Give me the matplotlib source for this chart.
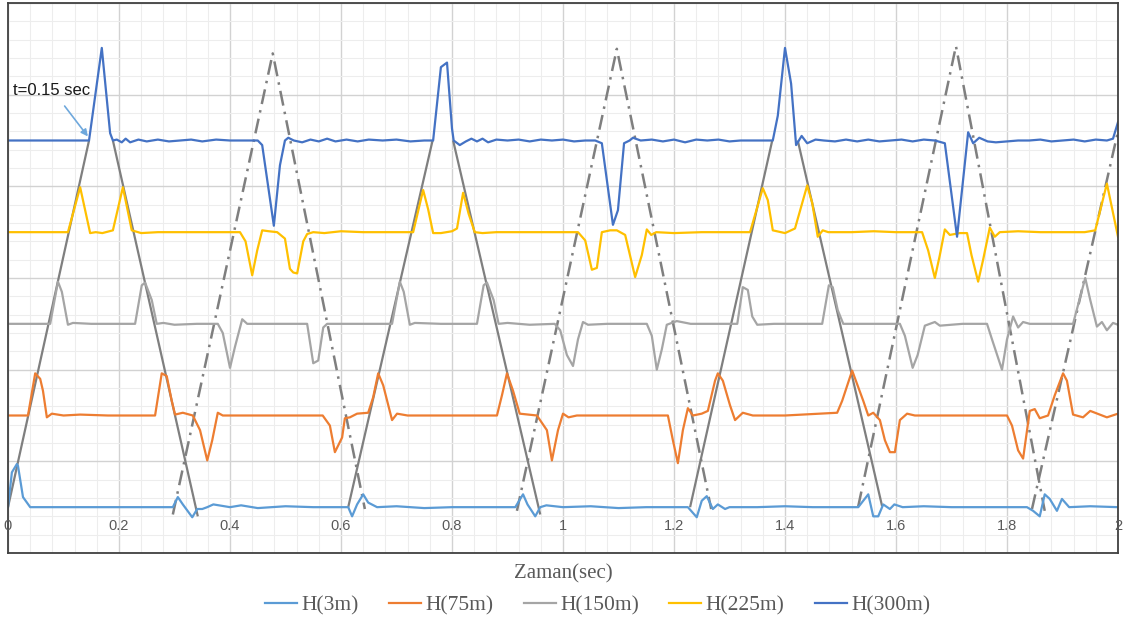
import numpy as np
import matplotlib
matplotlib.use("Agg")
import matplotlib.pyplot as plt

# zaman (s) ve kaydirilmis basinc degerleri
t_3 = [0.000, 0.007, 0.016, 0.018, 0.027, 0.040, 0.100, 0.200, 0.297, 0.306, 0.315, 0.332, 0.341,
       0.350, 0.359, 0.370, 0.400, 0.420, 0.450, 0.500, 0.550, 0.613, 0.620, 0.629, 0.640, 0.649,
       0.665, 0.700, 0.750, 0.800, 0.850, 0.914, 0.928, 0.936, 0.950, 0.959, 0.970, 1.000, 1.050,
       1.100, 1.150, 1.225, 1.241, 1.250, 1.259, 1.270, 1.279, 1.292, 1.300, 1.350, 1.400, 1.450,
       1.532, 1.550, 1.559, 1.568, 1.577, 1.589, 1.597, 1.612, 1.650, 1.700, 1.750, 1.800, 1.836,
       1.847, 1.859, 1.868, 1.877, 1.890, 1.899, 1.912, 1.950, 2.000]
h_3 = [0.00, 0.38, 0.47, 0.45, 0.11, 0.00, 0.00, 0.00, 0.00, 0.11, 0.03, -0.11, -0.02,
       -0.02, 0.00, 0.03, 0.00, 0.02, -0.01, 0.01, 0.00, 0.00, -0.10, 0.03, 0.14, 0.05,
       0.00, 0.01, -0.01, 0.00, 0.00, 0.00, 0.14, 0.03, -0.10, 0.00, 0.02, 0.00, 0.01,
       -0.01, 0.00, 0.00, -0.11, 0.07, 0.12, -0.02, 0.03, -0.02, 0.00, 0.00, 0.01, 0.00,
       0.00, 0.14, -0.10, -0.10, 0.03, -0.02, 0.03, 0.00, 0.01, 0.00, 0.00, 0.00, 0.00,
       -0.04, -0.10, 0.14, 0.09, -0.04, 0.09, 0.00, 0.01, 0.00]

t_75 = [0.000, 0.036, 0.049, 0.058, 0.063, 0.070, 0.079, 0.100, 0.130, 0.180, 0.230, 0.265, 0.277,
        0.286, 0.295, 0.301, 0.315, 0.333, 0.346, 0.359, 0.368, 0.378, 0.387, 0.430, 0.500, 0.567,
        0.580, 0.589, 0.602, 0.607, 0.616, 0.629, 0.649, 0.658, 0.667, 0.676, 0.692, 0.701, 0.720,
        0.800, 0.881, 0.890, 0.899, 0.910, 0.922, 0.953, 0.971, 0.980, 0.991, 1.000, 1.010, 1.025,
        1.080, 1.150, 1.189, 1.198, 1.207, 1.216, 1.225, 1.234, 1.250, 1.261, 1.274, 1.279, 1.288,
        1.301, 1.310, 1.324, 1.342, 1.400, 1.494, 1.503, 1.521, 1.541, 1.550, 1.559, 1.571, 1.580,
        1.589, 1.598, 1.607, 1.620, 1.634, 1.700, 1.760, 1.800, 1.809, 1.820, 1.829, 1.841, 1.850,
        1.859, 1.874, 1.886, 1.901, 1.908, 1.919, 1.937, 1.950, 1.980, 2.000]
h_75 = [1.00, 1.00, 1.46, 1.40, 1.27, 0.98, 1.02, 1.00, 1.01, 1.00, 1.00, 1.00, 1.46,
        1.43, 1.16, 1.01, 1.03, 1.00, 0.84, 0.51, 0.73, 1.03, 1.00, 1.00, 1.00, 1.00,
        0.89, 0.60, 0.76, 0.97, 0.98, 1.02, 1.03, 1.20, 1.46, 1.33, 0.95, 1.02, 1.00,
        1.00, 1.00, 1.22, 1.46, 1.27, 1.02, 1.00, 0.84, 0.51, 0.84, 1.02, 0.98, 1.00,
        1.00, 1.00, 1.00, 0.73, 0.48, 0.84, 1.08, 1.00, 1.02, 1.05, 1.38, 1.46, 1.38,
        1.11, 0.95, 1.03, 1.00, 1.00, 1.03, 1.16, 1.49, 1.16, 1.00, 1.03, 0.95, 0.73,
        0.60, 0.60, 0.95, 1.02, 1.00, 1.00, 1.00, 1.00, 0.89, 0.62, 0.53, 1.05, 1.07,
        0.97, 1.00, 1.22, 1.46, 1.38, 1.01, 0.98, 1.05, 0.98, 1.02]

t_150 = [0.000, 0.076, 0.090, 0.097, 0.108, 0.117, 0.150, 0.200, 0.229, 0.241, 0.247, 0.259, 0.268,
         0.280, 0.300, 0.340, 0.378, 0.387, 0.400, 0.409, 0.422, 0.431, 0.470, 0.510, 0.539, 0.550,
         0.559, 0.568, 0.575, 0.620, 0.680, 0.692, 0.706, 0.713, 0.724, 0.733, 0.780, 0.845, 0.857,
         0.863, 0.875, 0.884, 0.900, 0.940, 0.985, 0.995, 1.007, 1.018, 1.027, 1.036, 1.045, 1.080,
         1.120, 1.151, 1.160, 1.169, 1.178, 1.187, 1.205, 1.230, 1.270, 1.314, 1.324, 1.333, 1.341,
         1.350, 1.380, 1.420, 1.467, 1.479, 1.486, 1.495, 1.505, 1.540, 1.580, 1.607, 1.616, 1.630,
         1.639, 1.652, 1.670, 1.679, 1.720, 1.764, 1.773, 1.791, 1.800, 1.811, 1.820, 1.829, 1.841,
         1.880, 1.919, 1.941, 1.950, 1.962, 1.971, 1.980, 1.991, 2.000]
h_150 = [2.00, 2.00, 2.46, 2.35, 1.99, 2.01, 2.00, 2.00, 2.00, 2.42, 2.45, 2.26, 2.00,
         2.01, 1.99, 2.00, 2.00, 1.90, 1.52, 1.75, 2.05, 2.00, 2.00, 2.00, 2.00, 1.57,
         1.60, 1.96, 2.00, 2.00, 2.00, 2.00, 2.46, 2.35, 1.99, 2.01, 2.00, 2.00, 2.42,
         2.45, 2.26, 2.00, 2.01, 1.99, 2.00, 1.93, 1.66, 1.54, 1.83, 2.02, 1.99, 2.00,
         2.00, 2.00, 1.87, 1.50, 1.72, 1.99, 2.03, 2.00, 2.00, 2.00, 2.40, 2.37, 2.08,
         1.99, 2.00, 2.00, 2.00, 2.42, 2.40, 2.15, 2.00, 2.00, 2.00, 2.00, 1.87, 1.52,
         1.66, 1.98, 2.02, 1.98, 2.00, 2.00, 1.83, 1.50, 1.83, 2.08, 1.96, 2.02, 2.00,
         2.00, 2.00, 2.50, 2.26, 1.97, 2.02, 1.93, 2.01, 1.99]

t_225 = [0.000, 0.050, 0.108, 0.130, 0.148, 0.158, 0.170, 0.189, 0.207, 0.223, 0.240, 0.270, 0.300,
         0.350, 0.418, 0.428, 0.440, 0.449, 0.458, 0.470, 0.485, 0.499, 0.508, 0.514, 0.521, 0.532,
         0.539, 0.550, 0.570, 0.600, 0.640, 0.690, 0.730, 0.748, 0.757, 0.766, 0.780, 0.800, 0.809,
         0.820, 0.830, 0.841, 0.855, 0.880, 0.920, 0.960, 1.000, 1.027, 1.040, 1.052, 1.061, 1.070,
         1.085, 1.097, 1.112, 1.130, 1.142, 1.151, 1.159, 1.168, 1.200, 1.250, 1.300, 1.337, 1.360,
         1.369, 1.378, 1.400, 1.418, 1.440, 1.449, 1.459, 1.468, 1.478, 1.520, 1.560, 1.600, 1.647,
         1.658, 1.670, 1.679, 1.688, 1.697, 1.715, 1.728, 1.736, 1.748, 1.757, 1.769, 1.778, 1.787,
         1.820, 1.860, 1.900, 1.940, 1.959, 1.980, 2.000]
h_225 = [3.00, 3.00, 3.00, 3.49, 2.99, 3.00, 2.99, 3.02, 3.49, 3.02, 2.99, 3.00, 3.00,
         3.00, 3.00, 2.90, 2.53, 2.80, 3.02, 3.01, 3.00, 2.93, 2.60, 2.56, 2.55, 2.90,
         2.98, 3.00, 2.99, 3.01, 3.00, 3.00, 3.00, 3.46, 3.25, 2.99, 2.99, 3.01, 3.04,
         3.43, 3.20, 3.00, 2.99, 3.00, 3.00, 3.00, 3.00, 3.00, 2.91, 2.59, 2.61, 3.00,
         3.02, 3.02, 2.97, 2.51, 2.75, 3.03, 2.97, 3.00, 2.99, 3.00, 3.00, 3.00, 3.48,
         3.35, 3.02, 2.99, 3.04, 3.51, 3.32, 2.95, 3.02, 3.00, 3.00, 3.01, 3.00, 3.00,
         2.80, 2.50, 2.75, 3.03, 2.97, 2.99, 2.99, 2.75, 2.46, 2.70, 3.05, 2.95, 3.00,
         3.01, 3.00, 3.00, 3.00, 3.02, 3.53, 2.95]

t_300 = [0.000, 0.146, 0.169, 0.184, 0.189, 0.196, 0.205, 0.212, 0.220, 0.235, 0.250, 0.270, 0.290,
         0.310, 0.330, 0.350, 0.375, 0.400, 0.425, 0.450, 0.458, 0.479, 0.490, 0.499, 0.505, 0.515,
         0.530, 0.545, 0.560, 0.575, 0.590, 0.610, 0.630, 0.650, 0.675, 0.700, 0.725, 0.750, 0.766,
         0.780, 0.791, 0.800, 0.803, 0.814, 0.825, 0.835, 0.845, 0.855, 0.865, 0.880, 0.900, 0.920,
         0.940, 0.960, 0.980, 1.000, 1.020, 1.040, 1.058, 1.070, 1.090, 1.099, 1.110, 1.120, 1.126,
         1.140, 1.160, 1.180, 1.200, 1.220, 1.240, 1.260, 1.280, 1.300, 1.320, 1.350, 1.378, 1.387,
         1.400, 1.411, 1.420, 1.430, 1.440, 1.455, 1.470, 1.490, 1.510, 1.530, 1.550, 1.570, 1.590,
         1.610, 1.630, 1.650, 1.670, 1.688, 1.710, 1.730, 1.739, 1.750, 1.765, 1.780, 1.800, 1.820,
         1.840, 1.860, 1.880, 1.900, 1.920, 1.940, 1.960, 1.980, 1.991, 2.000]
h_300 = [4.00, 4.00, 5.01, 4.08, 4.00, 4.01, 3.98, 4.02, 3.98, 4.01, 3.99, 4.01, 3.99,
         4.00, 4.01, 3.99, 4.01, 4.00, 4.00, 4.00, 3.95, 3.07, 3.73, 4.00, 4.03, 4.00,
         3.98, 4.01, 3.99, 4.02, 3.99, 4.01, 3.99, 4.01, 4.00, 4.01, 3.99, 4.00, 4.00,
         4.80, 4.85, 4.13, 4.00, 3.95, 3.99, 4.02, 3.99, 4.02, 3.98, 4.01, 4.00, 4.01,
         3.99, 4.01, 4.00, 4.01, 3.99, 4.00, 4.00, 3.97, 3.08, 3.24, 3.97, 4.00, 4.03,
         4.00, 4.01, 3.99, 4.01, 3.98, 4.01, 4.00, 4.01, 3.99, 4.00, 4.00, 4.00, 4.27,
         5.01, 4.62, 3.95, 4.05, 3.97, 4.01, 4.00, 3.99, 4.01, 3.99, 4.01, 3.99, 4.00,
         4.01, 3.99, 4.01, 4.00, 3.97, 2.95, 4.09, 3.97, 4.03, 3.99, 3.98, 3.99, 4.00,
         4.00, 4.01, 3.99, 4.00, 4.01, 3.99, 4.01, 4.00, 4.02, 4.20]

# dalga cephesi: duz cizgiler 300 m seviyesinde kesiliyor, kesikli olanlar tepeye cikiyor
tri_solid_t = [[0.000, 0.146], [0.189, 0.342], [0.613, 0.765], [0.802, 0.959],
               [1.229, 1.377], [1.423, 1.575]]
tri_solid_y = [[0.00, 4.00], [4.00, -0.10], [0.00, 4.00], [4.00, -0.08],
               [0.00, 4.00], [4.00, 0.01]]
tri_dash_t = [[0.297, 0.477, 0.643], [0.917, 1.097, 1.267], [1.532, 1.708, 1.868], [1.845, 2.000]]
tri_dash_y = [[-0.08, 4.95, -0.02], [-0.04, 5.00, -0.02], [0.01, 5.03, -0.04], [-0.02, 4.10]]

x_ticks = [0, 0.2, 0.4, 0.6, 0.8, 1.0, 1.2, 1.4, 1.6, 1.8, 2.0]
x_tick_labels = ['0', '0.2', '0.4', '0.6', '0.8', '1', '1.2', '1.4', '1.6', '1.8', '2']

series = [
    (t_3, h_3, 'H(3m)', '#5B9BD5'),
    (t_75, h_75, 'H(75m)', '#ED7D31'),
    (t_150, h_150, 'H(150m)', '#A5A5A5'),
    (t_225, h_225, 'H(225m)', '#FFC000'),
    (t_300, h_300, 'H(300m)', '#4472C4'),
]

fig = plt.figure(figsize=(11.36, 6.28), dpi=100)
ax = fig.add_axes([8 / 1136, 1 - 553 / 628, 1110 / 1136, 550 / 628])

ax.set_xlim(0, 2)
ax.set_ylim(-0.5, 5.5)
ax.set_xticks(np.arange(0, 2.001, 0.2))
ax.set_xticks(np.arange(0, 2.001, 0.04), minor=True)
ax.set_yticks(np.arange(-0.5, 5.51, 1.0))
ax.set_yticks(np.arange(-0.5, 5.51, 0.2), minor=True)
ax.tick_params(which='both', length=0, labelbottom=False, labelleft=False)
ax.set_axisbelow(True)
ax.grid(which='major', color='#d2d2d2', lw=1.0)
ax.grid(which='minor', color='#ededed', lw=0.8)

for spine in ax.spines.values():
    spine.set_color('#404040')
    spine.set_linewidth(1.3)

# ucgenler
for tt, yy in zip(tri_solid_t, tri_solid_y):
    ax.plot(tt, yy, color='#7f7f7f', lw=1.6, solid_capstyle='butt')
for tt, yy in zip(tri_dash_t, tri_dash_y):
    ax.plot(tt, yy, color='#7f7f7f', lw=1.8, linestyle=(0, (6, 2.5, 1, 2.5)))

handles = []
for tt, yy, label, color in series:
    line, = ax.plot(tt, yy, color=color, lw=1.6, label=label)
    handles.append(line)

# x ekseni etiketleri (y=0 cizgisinin altinda)
for xv, lab in zip(x_ticks, x_tick_labels):
    ax.text(xv, -0.2, lab, ha='center', va='center', fontsize=10.5,
            family='Liberation Sans', color='#595959')

ax.set_xlabel('Zaman(sec)', fontsize=15, family='Liberation Serif', color='#595959', labelpad=8)

ax.text(0.009, 4.55, 't=0.15 sec', ha='left', va='center', fontsize=12,
        family='Liberation Sans', color='#1a1a1a')
ax.annotate('', xy=(0.147, 4.02), xytext=(0.099, 4.40),
            arrowprops=dict(arrowstyle='-|>', color='#6fa8dc', lw=1.2, mutation_scale=10))

fig.legend(handles, [s[2] for s in series], loc='center', bbox_to_anchor=(0.526, 1 - 605 / 628),
           ncol=5, frameon=False, prop={'family': 'Liberation Serif', 'size': 15.5},
           handlelength=1.5, handletextpad=0.2, columnspacing=1.4, labelcolor='#595959')

fig.savefig('out.png', dpi=100)
